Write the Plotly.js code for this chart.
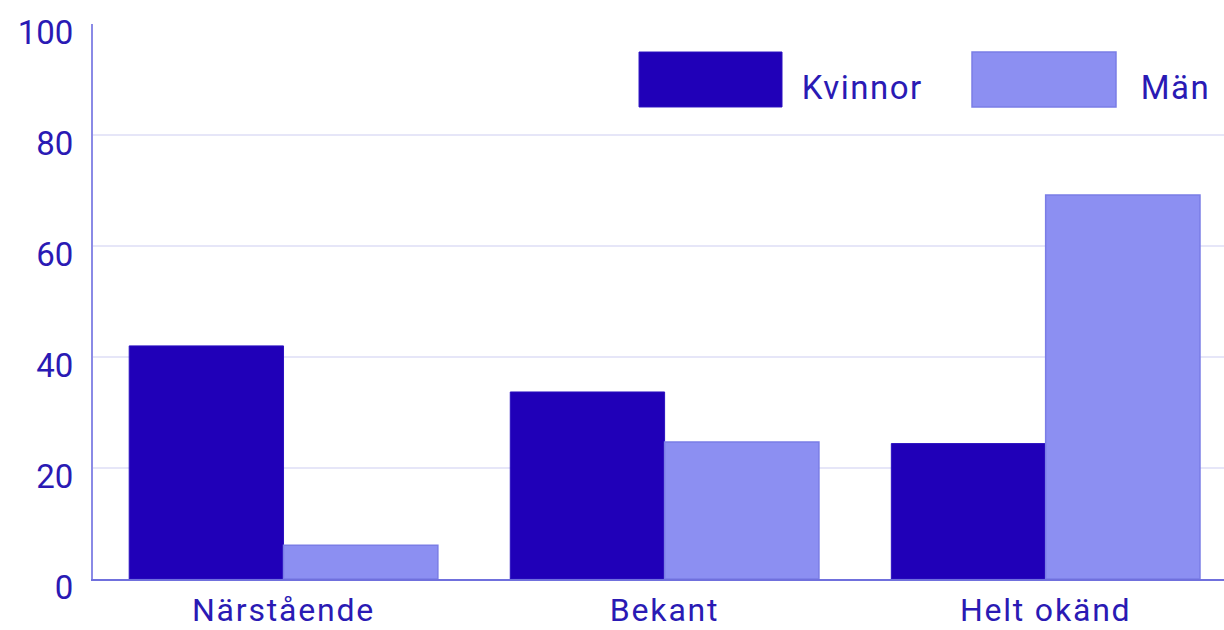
<!DOCTYPE html>
<html>
<head>
<meta charset="utf-8">
<script src="https://cdn.plot.ly/plotly-3.0.1.min.js"></script>
<style>
html,body{margin:0;padding:0;background:#fff;overflow:hidden}
#chart{width:1224px;height:630px}
#chart .xtick text{letter-spacing:1.8px}
#chart .annotation-text{letter-spacing:1.5px}
</style>
</head>
<body>
<div id="chart"></div>
<script>
const categories = ["Närstående", "Bekant", "Helt okänd"];
const kvinnor = [42, 33.7, 24.4];
const man = [6.1, 24.7, 69.2];
const seriesNames = ["Kvinnor", "Män"];
const yTicks = [0, 20, 40, 60, 80, 100];

const textColor = "#2a1ab4";
const darkColor = "#2000b8";
const lightColor = "#8c8ff2";
const fontFam = "Roboto, 'Open Sans', sans-serif";

const traces = [
  {type: "bar", name: seriesNames[0], x: categories, y: kvinnor,
   marker: {color: darkColor, line: {color: "#2a10c0", width: 1}}, showlegend: false},
  {type: "bar", name: seriesNames[1], x: categories, y: man,
   marker: {color: lightColor, line: {color: "#7a7de6", width: 1.5}}, showlegend: false}
];

const layout = {
  width: 1224, height: 630,
  margin: {l: 93, r: 0, t: 24, b: 51, pad: 0},
  paper_bgcolor: "#fff", plot_bgcolor: "#fff",
  barmode: "group", bargap: 0.19, bargroupgap: 0,
  font: {family: fontFam, color: textColor, size: 33},
  xaxis: {
    range: [-0.5, 2.468], showgrid: false, zeroline: false,
    showline: true, linecolor: "#7070dd", linewidth: 2,
    ticks: "", tickfont: {size: 32, color: textColor},
    ticklabelstandoff: 2
  },
  yaxis: {
    range: [0, 100], tickvals: yTicks, ticktext: yTicks.map(String),
    showgrid: true, gridcolor: "#e6e6f8", gridwidth: 2,
    zeroline: false, showline: true, linecolor: "#8a8ae6", linewidth: 2,
    ticks: "", tickfont: {size: 33, color: textColor},
    ticklabelstandoff: 11, ticklabelshift: 8
  },
  shapes: [
    {type: "rect", xref: "paper", yref: "paper", x0: 0.4828, x1: 0.6092, y0: 0.8505, y1: 0.9495,
     fillcolor: darkColor, line: {color: "#2a10c0", width: 1}},
    {type: "rect", xref: "paper", yref: "paper", x0: 0.7772, x1: 0.9045, y0: 0.8505, y1: 0.9495,
     fillcolor: lightColor, line: {color: "#7a7de6", width: 1.5}}
  ],
  annotations: [
    {xref: "paper", yref: "paper", x: 0.6295, y: 0.8847, xanchor: "left", yanchor: "middle",
     text: seriesNames[0], showarrow: false, font: {size: 33, color: textColor}},
    {xref: "paper", yref: "paper", x: 0.9266, y: 0.8847, xanchor: "left", yanchor: "middle",
     text: seriesNames[1], showarrow: false, font: {size: 33, color: textColor}}
  ]
};

Plotly.newPlot("chart", traces, layout, {displayModeBar: false, staticPlot: true});
</script>
</body>
</html>
